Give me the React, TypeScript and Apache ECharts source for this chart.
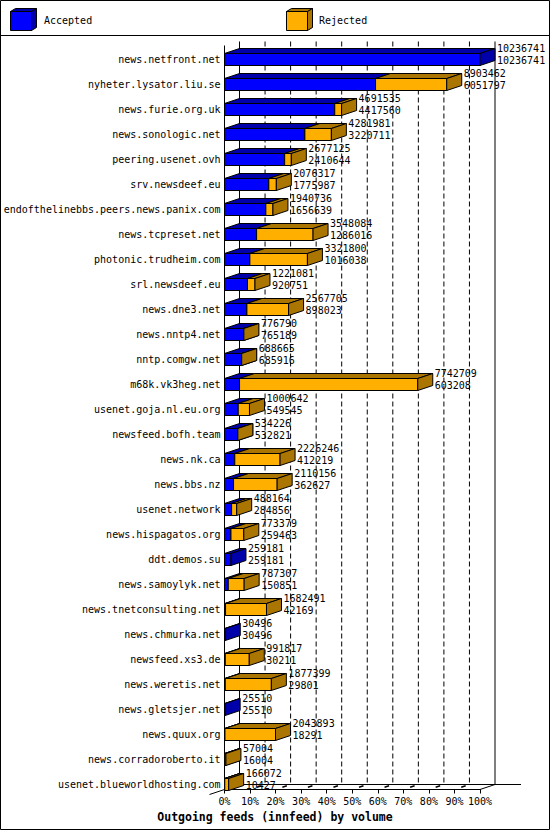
import React, { useEffect, useRef } from "react";
import * as echarts from "echarts";

const hosts = [
  "news.netfront.net",
  "nyheter.lysator.liu.se",
  "news.furie.org.uk",
  "news.sonologic.net",
  "peering.usenet.ovh",
  "srv.newsdeef.eu",
  "endofthelinebbs.peers.news.panix.com",
  "news.tcpreset.net",
  "photonic.trudheim.com",
  "srl.newsdeef.eu",
  "news.dne3.net",
  "news.nntp4.net",
  "nntp.comgw.net",
  "m68k.vk3heg.net",
  "usenet.goja.nl.eu.org",
  "newsfeed.bofh.team",
  "news.nk.ca",
  "news.bbs.nz",
  "usenet.network",
  "news.hispagatos.org",
  "ddt.demos.su",
  "news.samoylyk.net",
  "news.tnetconsulting.net",
  "news.chmurka.net",
  "newsfeed.xs3.de",
  "news.weretis.net",
  "news.gletsjer.net",
  "news.quux.org",
  "news.corradoroberto.it",
  "usenet.blueworldhosting.com",
];

const totals = [
  10236741, 8903462, 4691535, 4281981, 2677125, 2076317, 1940736, 3548084,
  3321800, 1221081, 2567705, 776790, 688665, 7742709, 1000642, 534226,
  2226246, 2110156, 488164, 773379, 259181, 787307, 1682491, 30496, 991817,
  1877399, 25510, 2043893, 57004, 166072,
];

const accepted = [
  10236741, 6051797, 4417560, 3220711, 2410644, 1775987, 1656639, 1286016,
  1016038, 920751, 898023, 765189, 685916, 603208, 549545, 532821, 412219,
  362627, 284856, 259463, 259181, 150851, 42169, 30496, 30211, 29801, 25510,
  18291, 16004, 10427,
];

const seriesNames = ["Accepted", "Rejected"];
const titleText = "Outgoing feeds (innfeed) by volume";

const FONT = '"DejaVu Sans Mono", "Liberation Mono", monospace';
const DX = 15;
const DY = 5;
const BLUE = "#0000ff";
const BLUE_D = "#0000aa";
const ORANGE = "#ffaf00";
const ORANGE_D = "#aa7500";

function box(x0: number, x1: number, yT: number, yB: number, front: string, dark: string, dx = DX, dy = DY) {
  const s = (fill: string) => ({ fill, stroke: "#000", lineWidth: 1 });
  return [
    { type: "polygon", shape: { points: [[x0, yT], [x1, yT], [x1, yB], [x0, yB]] }, style: s(front) },
    { type: "polygon", shape: { points: [[x0, yT], [x0 + dx, yT - dy], [x1 + dx, yT - dy], [x1, yT]] }, style: s(dark) },
    { type: "polygon", shape: { points: [[x1, yT], [x1 + dx, yT - dy], [x1 + dx, yB - dy], [x1, yB]] }, style: s(dark) },
  ];
}

function txt(x: number, y: number, text: string, align = "left", size = 10, weight = "normal") {
  return {
    type: "text",
    x,
    y,
    style: {
      text,
      fill: "#000",
      fontFamily: FONT,
      fontSize: size,
      fontWeight: weight,
      align,
      textAlign: align,
      verticalAlign: "middle",
      textVerticalAlign: "middle",
    },
  };
}

export default function App() {
  const ref = useRef<HTMLDivElement>(null);

  useEffect(() => {
    if (!ref.current) return;
    const chart = echarts.init(ref.current, undefined, { renderer: "svg" });
    const MAX = Math.max(...totals);
    const barData = hosts.map((h, i) => [
      (totals[i] / MAX) * 100,
      i,
      (accepted[i] / MAX) * 100,
      totals[i],
      accepted[i],
    ]);

    const option: any = {
      animation: false,
      backgroundColor: "#fff",
      grid: { left: 224.5, top: 46.5, width: 255.5, height: 750, containLabel: false },
      xAxis: {
        type: "value",
        min: 0,
        max: 100,
        interval: 10,
        offset: -7,
        axisLine: { show: true, lineStyle: { color: "#000", width: 1 } },
        axisTick: { show: true, length: 4, lineStyle: { color: "#000", width: 1 } },
        axisLabel: { formatter: "{value}%", fontFamily: FONT, fontSize: 10, color: "#000", margin: 7 },
        splitLine: { show: false },
      },
      yAxis: {
        type: "category",
        inverse: true,
        data: hosts,
        axisLine: { show: false },
        axisTick: { show: false },
        splitLine: { show: false },
        axisLabel: { fontFamily: FONT, fontSize: 10, color: "#000", margin: 4, interval: 0 },
      },
      graphic: [
        { type: "rect", shape: { x: 0.5, y: 0.5, width: 549, height: 829 }, style: { fill: "none", stroke: "#000", lineWidth: 1 }, z: 100 },
        { type: "line", shape: { x1: 0, y1: 35.5, x2: 550, y2: 35.5 }, style: { stroke: "#000", lineWidth: 1 } },
        ...box(10.5, 31.5, 11.5, 30.5, BLUE, BLUE_D, 5, 3).map((e) => ({ ...e })),
        txt(44, 20, seriesNames[0]),
        ...box(286.5, 307.5, 11.5, 30.5, ORANGE, ORANGE_D, 5, 3).map((e) => ({ ...e })),
        txt(319, 20, seriesNames[1]),
        txt(275, 817, titleText, "center", 11.5, "bold"),
      ],
      series: [
        {
          type: "custom",
          name: "frame",
          z: 1,
          clip: false,
          silent: true,
          data: [[0, 0]],
          encode: { x: 0, y: 1 },
          renderItem: (params: any, api: any) => {
            const cs = params.coordSys;
            const top = cs.y - 5;
            const lastC = api.coord([0, hosts.length - 1])[1];
            const floorF = lastC + 5.5;
            const floorB = floorF - DY;
            const x0 = api.coord([0, 0])[0];
            const x100 = api.coord([100, 0])[0];
            const children: any[] = [];
            for (let v = 0; v <= 100; v += 10) {
              const xf = api.coord([v, 0])[0];
              const xb = xf + DX;
              const style: any = { stroke: "#000", lineWidth: 1 };
              if (v !== 0 && v !== 100) style.lineDash = [5, 3];
              children.push({ type: "line", shape: { x1: xb, y1: top, x2: xb, y2: floorB }, style });
              if (v > 0 && v < 100) {
                children.push({
                  type: "line",
                  shape: { x1: xf + DX * 0.45, y1: floorF - DY * 0.45, x2: xf + DX * 0.75, y2: floorF - DY * 0.75 },
                  style: { stroke: "#000", lineWidth: 1.5 },
                });
              }
            }
            children.push({ type: "line", shape: { x1: x0 + DX, y1: floorB, x2: x100 + DX + 26, y2: floorB }, style: { stroke: "#000", lineWidth: 1 } });
            children.push({ type: "line", shape: { x1: x100, y1: floorF, x2: x100 + DX, y2: floorB }, style: { stroke: "#000", lineWidth: 1 } });
            children.push({ type: "line", shape: { x1: x0 - DX, y1: floorF + DY, x2: x0 + DX, y2: floorB }, style: { stroke: "#000", lineWidth: 1 } });
            children.push({ type: "line", shape: { x1: x0, y1: cs.y - 1, x2: x0, y2: floorF }, style: { stroke: "#000", lineWidth: 1 } });
            return { type: "group", children };
          },
        },
        {
          type: "custom",
          name: "bars",
          z: 2,
          clip: false,
          data: barData,
          encode: { x: [0, 2], y: 1 },
          renderItem: (params: any, api: any) => {
            const i = params.dataIndex;
            const tP = api.value(0);
            const aP = api.value(2);
            const p0 = api.coord([0, i]);
            const x0 = p0[0];
            const c = p0[1];
            const xt = api.coord([tP, i])[0];
            const xa = api.coord([aP, i])[0];
            const yT = c - 5.5;
            const yB = c + 6.5;
            const children: any[] = [...box(x0, xa, yT, yB, BLUE, BLUE_D)];
            if (totals[i] > accepted[i]) children.push(...box(xa, xt, yT, yB, ORANGE, ORANGE_D));
            children.push(txt(xt + DX + 2, c - 10.5, String(api.value(3))));
            children.push(txt(xt + DX + 2, c + 1.5, String(api.value(4))));
            return { type: "group", children };
          },
        },
      ],
    };
    chart.setOption(option);
    return () => chart.dispose();
  }, []);

  return <div ref={ref} style={{ position: "absolute", left: 0, top: 0, width: 550, height: 830 }} />;
}
